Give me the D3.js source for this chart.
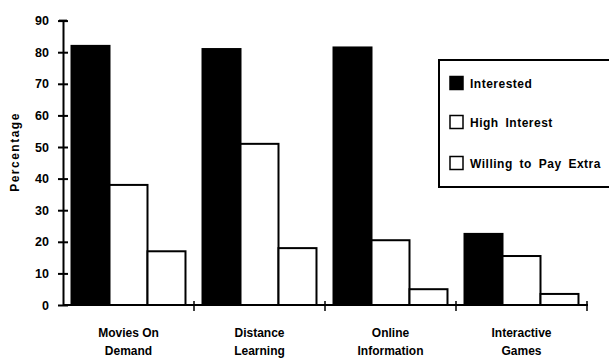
<!DOCTYPE html>
<html>
<head>
<meta charset="utf-8">
<script src="https://cdn.jsdelivr.net/npm/d3@7"></script>
<style>
  body { margin: 0; background: #fff; }
  svg { display: block; }
  text { font-family: "Liberation Sans", Arial, Helvetica, sans-serif; font-weight: bold; fill: #000; }
</style>
</head>
<body>
<svg id="chart" width="609" height="358"></svg>
<script>
// ---- data ----
const categories = ["Movies On Demand", "Distance Learning", "Online Information", "Interactive Games"];
const categoryLines = [["Movies On", "Demand"], ["Distance", "Learning"], ["Online", "Information"], ["Interactive", "Games"]];
const series = ["Interested", "High Interest", "Willing to Pay Extra"];
const interested = [82, 81, 81.5, 22.5];
const highInterest = [38, 51, 20.5, 15.5];
const willingToPay = [17, 18, 5, 3.5];
const yTicks = [0, 10, 20, 30, 40, 50, 60, 70, 80, 90];
const seriesFill = ["#000", "#fff", "#fff"];

const values = [interested, highInterest, willingToPay];

const svg = d3.select("#chart");

const x0 = d3.scaleBand().domain(categories).range([63, 587]).paddingInner(0).paddingOuter(0);
const x1 = d3.scaleBand().domain(series).range([0, x0.bandwidth()]).paddingInner(0).paddingOuter(0.224);
const y = d3.scaleLinear().domain([0, 90]).range([305, 20.6]);

// bars
const groups = svg.append("g").selectAll("g")
  .data(categories)
  .join("g")
  .attr("transform", d => `translate(${x0(d)},0)`);

groups.selectAll("rect")
  .data((d, i) => series.map((s, j) => ({ s, j, v: values[j][i] })))
  .join("rect")
  .attr("x", d => x1(d.s))
  .attr("y", d => y(d.v))
  .attr("width", x1.bandwidth())
  .attr("height", d => y(0) - y(d.v))
  .attr("fill", d => seriesFill[d.j])
  .attr("stroke", "#000")
  .attr("stroke-width", 2);

// y axis
const yAxis = svg.append("g").attr("transform", "translate(63,0)")
  .call(d3.axisLeft(y).tickValues(yTicks).tickSize(5).tickPadding(9).tickSizeOuter(0));
yAxis.select(".domain").attr("stroke", "#000").attr("stroke-width", 2);
yAxis.selectAll(".tick line").attr("x2", 5).attr("x1", -5).attr("stroke-width", 2);
yAxis.selectAll(".tick text").attr("font-size", 12.5).attr("font-family", "Liberation Sans, Arial, sans-serif").attr("font-weight", "bold");
yAxis.append("line").attr("x1", -4).attr("x2", 4).attr("y1", y(90)).attr("y2", y(90)).attr("stroke", "#000").attr("stroke-width", 2);

// x axis
const xAxis = svg.append("g").attr("transform", `translate(0,${y(0)})`);
xAxis.append("line").attr("x1", 63).attr("x2", 588).attr("y1", 0).attr("y2", 0).attr("stroke", "#000").attr("stroke-width", 2);
xAxis.selectAll("line.t")
  .data(categories)
  .join("line")
  .attr("class", "t")
  .attr("x1", d => x0(d) + x0.bandwidth())
  .attr("x2", d => x0(d) + x0.bandwidth())
  .attr("y1", -4).attr("y2", 6)
  .attr("stroke", "#000").attr("stroke-width", 1.5);

// category labels
const lab = svg.append("g").selectAll("text")
  .data(categories)
  .join("text")
  .attr("text-anchor", "middle")
  .attr("font-size", 12)
  .attr("x", d => x0(d) + x0.bandwidth() / 2);
lab.selectAll("tspan")
  .data((d, i) => categoryLines[i])
  .join("tspan")
  .attr("x", function () { return d3.select(this.parentNode).attr("x"); })
  .attr("y", (d, k) => 337 + k * 18)
  .text(d => d);

// y label
svg.append("text")
  .attr("transform", "translate(19,152) rotate(-90)")
  .attr("text-anchor", "middle")
  .attr("font-size", 12)
  .attr("letter-spacing", 1.5)
  .text("Percentage");

// legend
const legend = svg.append("g");
legend.append("rect").attr("x", 439).attr("y", 60).attr("width", 180).attr("height", 127)
  .attr("fill", "#fff").attr("stroke", "#000").attr("stroke-width", 2);
const rowY = [83, 122, 163];
const items = legend.selectAll("g.item").data(series).join("g").attr("class", "item")
  .attr("transform", (d, i) => `translate(450,${rowY[i]})`);
items.append("rect").attr("x", 0).attr("y", -6.5).attr("width", 13).attr("height", 13)
  .attr("fill", (d, i) => seriesFill[i]).attr("stroke", "#000").attr("stroke-width", 1.5);
items.append("text").attr("x", 20).attr("y", 4.5).attr("font-size", 12)
  .attr("letter-spacing", 0.5)
  .attr("word-spacing", 3)
  .text(d => d);
</script>
</body>
</html>
